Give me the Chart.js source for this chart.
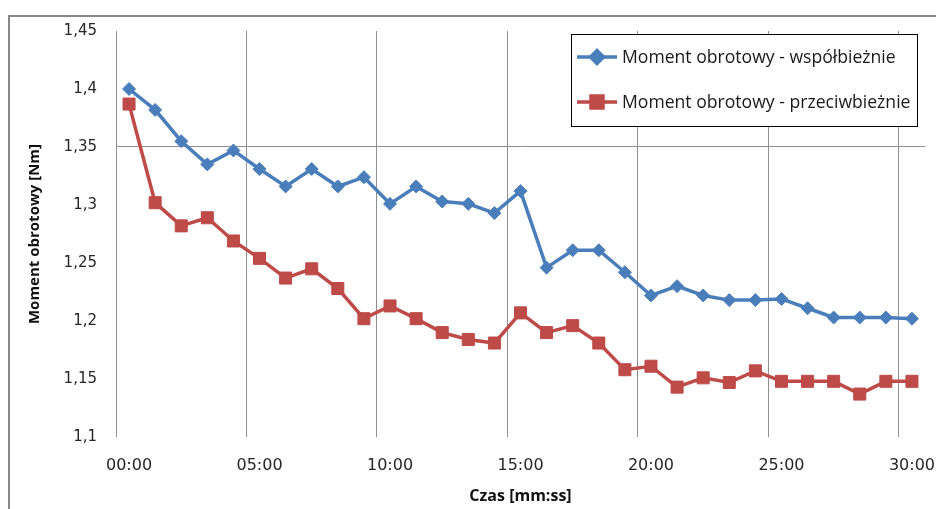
<!DOCTYPE html>
<html>
<head>
<meta charset="utf-8">
<script src="https://cdn.jsdelivr.net/npm/chart.js@4"></script>
<style>
  html, body { margin: 0; padding: 0; background: #ffffff; }
  canvas { display: block; }
</style>
</head>
<body>
<canvas id="chart" width="936" height="509"></canvas>
<script>
// Time stamps (mm:ss), one reading per minute
const czas = [
  '00:00','01:00','02:00','03:00','04:00','05:00','06:00','07:00','08:00','09:00',
  '10:00','11:00','12:00','13:00','14:00','15:00','16:00','17:00','18:00','19:00',
  '20:00','21:00','22:00','23:00','24:00','25:00','26:00','27:00','28:00','29:00','30:00'
];

// Torque [Nm], co-current flow
const momentWspolbieznie = [
  1.400, 1.382, 1.355, 1.335, 1.347, 1.331, 1.316, 1.331, 1.316, 1.324,
  1.301, 1.316, 1.303, 1.301, 1.293, 1.312, 1.246, 1.261, 1.261, 1.242,
  1.222, 1.230, 1.222, 1.218, 1.218, 1.219, 1.211, 1.203, 1.203, 1.203, 1.202
];

// Torque [Nm], counter-current flow
const momentPrzeciwbieznie = [
  1.387, 1.302, 1.282, 1.289, 1.269, 1.254, 1.237, 1.245, 1.228, 1.202,
  1.213, 1.202, 1.190, 1.184, 1.181, 1.207, 1.190, 1.196, 1.181, 1.158,
  1.161, 1.143, 1.151, 1.147, 1.157, 1.148, 1.148, 1.148, 1.137, 1.148, 1.148
];

// Value axis ticks
const yTicks = [1.1, 1.15, 1.2, 1.25, 1.3, 1.35, 1.4, 1.45];
const yGridValue = 1.35;

const BLUE = '#4a7ebb';
const RED = '#be4b48';
const GRID = '#8f8f8f';

// Outer frame and boxed legend inside the plot area
const decorations = {
  id: 'decorations',
  afterDraw(chart) {
    const ctx = chart.ctx;
    ctx.save();
    ctx.strokeStyle = '#888888';
    ctx.lineWidth = 2;
    ctx.strokeRect(9, 16, 1200, 1200);

    const box = { x: 571.5, y: 34.5, w: 346, h: 92 };
    ctx.fillStyle = '#ffffff';
    ctx.fillRect(box.x, box.y, box.w, box.h);
    ctx.strokeStyle = '#000000';
    ctx.lineWidth = 1;
    ctx.strokeRect(box.x, box.y, box.w, box.h);

    const rows = [57, 102];
    chart.data.datasets.forEach((ds, i) => {
      const y = rows[i];
      ctx.strokeStyle = ds.borderColor;
      ctx.lineWidth = ds.borderWidth;
      ctx.beginPath();
      ctx.moveTo(577, y);
      ctx.lineTo(617, y);
      ctx.stroke();
      ctx.fillStyle = ds.pointBackgroundColor;
      ctx.strokeStyle = ds.pointBorderColor;
      Chart.helpers.drawPoint(ctx, {
        pointStyle: ds.pointStyle,
        radius: ds.pointRadius,
        borderWidth: ds.pointBorderWidth,
        rotation: 0
      }, 597, y);
      ctx.fillStyle = '#1a1a1a';
      ctx.font = '17.6px "Open Sans"';
      ctx.textBaseline = 'middle';
      ctx.textAlign = 'left';
      ctx.fillText(ds.label, 622, y + 1);
    });
    ctx.restore();
  }
};

new Chart(document.getElementById('chart'), {
  type: 'line',
  data: {
    labels: czas,
    datasets: [
      {
        label: 'Moment obrotowy - współbieżnie',
        data: momentWspolbieznie,
        borderColor: BLUE,
        borderWidth: 3.5,
        pointStyle: 'rectRot',
        pointRadius: 6.5,
        pointBorderWidth: 1,
        pointBackgroundColor: BLUE,
        pointBorderColor: BLUE,
        tension: 0
      },
      {
        label: 'Moment obrotowy - przeciwbieżnie',
        data: momentPrzeciwbieznie,
        borderColor: RED,
        borderWidth: 3.5,
        pointStyle: 'rect',
        pointRadius: 8.5,
        pointBorderWidth: 1,
        pointBackgroundColor: RED,
        pointBorderColor: RED,
        tension: 0
      }
    ]
  },
  options: {
    responsive: false,
    animation: false,
    devicePixelRatio: 1,
    layout: { padding: { left: 0, top: 31, right: 11, bottom: 0 } },
    plugins: {
      legend: { display: false },
      tooltip: { enabled: false }
    },
    scales: {
      x: {
        type: 'category',
        offset: true,
        grid: {
          offset: true,
          drawTicks: false,
          lineWidth: 1,
          color: (c) => (c.index !== undefined && c.index % 5 === 0) ? GRID : 'rgba(0,0,0,0)'
        },
        border: { display: false },
        ticks: {
          autoSkip: false,
          maxRotation: 0,
          minRotation: 0,
          padding: 19,
          color: '#262626',
          font: { family: '"DejaVu Sans"', size: 16 },
          callback: (v, i) => (i % 5 === 0 ? czas[i] : '')
        },
        title: {
          display: true,
          text: 'Czas [mm:ss]',
          color: '#111111',
          font: { family: '"Open Sans"', size: 16, weight: 'bold' },
          padding: { top: 0, bottom: 3 }
        },
        afterFit: (s) => {
          s.height = 72;
          s.paddingLeft = 0;
          s.paddingRight = 0;
        }
      },
      y: {
        min: 1.1,
        max: 1.45,
        afterBuildTicks: (s) => { s.ticks = yTicks.map((v) => ({ value: v })); },
        grid: {
          drawTicks: false,
          lineWidth: 1,
          color: (c) => (c.tick && Math.abs(c.tick.value - yGridValue) < 1e-9) ? GRID : 'rgba(0,0,0,0)'
        },
        border: { display: false },
        ticks: {
          padding: 19,
          color: '#262626',
          font: { family: '"DejaVu Sans"', size: 15 },
          callback: (v) => String(Number(v.toFixed(2))).replace('.', ',')
        },
        title: {
          display: true,
          text: 'Moment obrotowy [Nm]',
          color: '#111111',
          font: { family: '"Open Sans"', size: 15, weight: 'bold' },
          padding: { top: 26, bottom: 0 }
        },
        afterFit: (s) => { s.width = 116; }
      }
    }
  },
  plugins: [decorations]
});
</script>
</body>
</html>
